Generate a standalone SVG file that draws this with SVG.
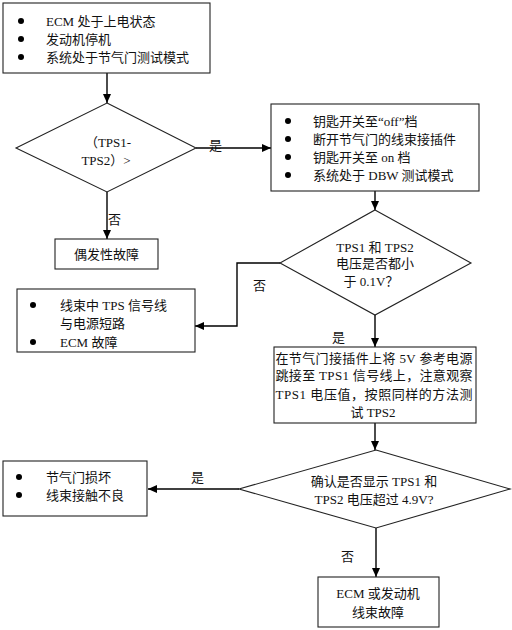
<svg xmlns="http://www.w3.org/2000/svg" width="512" height="630" viewBox="0 0 512 630">
<style>
.box{fill:#fff;stroke:#222;stroke-width:1.1}
.t{font-family:"Liberation Serif","Noto Sans CJK SC",serif;font-size:13px;fill:#111}
.m{text-anchor:middle}
.c{stroke:#000;stroke-width:1.4;fill:none;marker-end:url(#ah)}
.b{fill:#000}
</style>
<defs>
<marker id="ah" markerUnits="userSpaceOnUse" markerWidth="10" markerHeight="10" refX="9" refY="5" orient="auto">
<path d="M0,1 L9,5 L0,9 Z" fill="#000"/>
</marker>
</defs>
<rect width="512" height="630" fill="#fff"/>
<g id="connectors">
<path class="c" d="M107,73 V103"/>
<path class="c" d="M196,148 H271"/>
<path class="c" d="M107,192 V239"/>
<path class="c" d="M375,191 V210"/>
<path class="c" d="M280,263 H237 V326 H195"/>
<path class="c" d="M375,315 V347"/>
<path class="c" d="M375,423 V450"/>
<path class="c" d="M239,489 H148"/>
<path class="c" d="M376,528 V577"/>
<text class="t" x="209" y="150">是</text>
<text class="t" x="108" y="224">否</text>
<text class="t" x="253" y="290">否</text>
<text class="t" x="332" y="342">是</text>
<text class="t" x="191" y="482">是</text>
<text class="t" x="341" y="561">否</text>
</g>
<g id="start">
<rect class="box" x="3" y="3" width="207" height="70"/>
<circle class="b" cx="21" cy="21" r="3"/>
<circle class="b" cx="21" cy="39" r="3"/>
<circle class="b" cx="21" cy="57" r="3"/>
<text class="t" x="46" y="25.5">ECM 处于上电状态</text>
<text class="t" x="46" y="43.5">发动机停机</text>
<text class="t" x="46" y="61.5">系统处于节气门测试模式</text>
</g>
<g id="d1">
<polygon class="box" points="107,103 196,148 107,192 16,148"/>
<text class="t m" x="108" y="146.5">（TPS1-</text>
<text class="t m" x="106" y="164.5">TPS2）&gt;</text>
</g>
<g id="intermittent">
<rect class="box" x="55" y="239" width="103" height="30"/>
<text class="t m" x="106.5" y="258.5">偶发性故障</text>
</g>
<g id="steps">
<rect class="box" x="271" y="104" width="208" height="87"/>
<circle class="b" cx="288" cy="121" r="3"/>
<circle class="b" cx="288" cy="139" r="3"/>
<circle class="b" cx="288" cy="157" r="3"/>
<circle class="b" cx="288" cy="175" r="3"/>
<text class="t" x="313" y="125.5">钥匙开关至“off”档</text>
<text class="t" x="313" y="143.5">断开节气门的线束接插件</text>
<text class="t" x="313" y="161.5">钥匙开关至 on 档</text>
<text class="t" x="313" y="179.5">系统处于 DBW 测试模式</text>
</g>
<g id="d2">
<polygon class="box" points="375,210 471,263 375,315 280,263"/>
<text class="t m" x="375" y="251.5">TPS1 和 TPS2</text>
<text class="t m" x="375" y="268">电压是否都小</text>
<text class="t m" x="371" y="285.5">于 0.1V？</text>
</g>
<g id="short">
<rect class="box" x="17" y="289" width="178" height="63"/>
<circle class="b" cx="33" cy="305" r="3"/>
<circle class="b" cx="33" cy="342" r="3"/>
<text class="t" x="60" y="309.5">线束中 TPS 信号线</text>
<text class="t" x="60" y="327.5">与电源短路</text>
<text class="t" x="60" y="346.5">ECM 故障</text>
</g>
<g id="jumper">
<rect class="box" x="274" y="347" width="202" height="76"/>
<text class="t" x="275.5" y="362.5" textLength="197" lengthAdjust="spacing">在节气门接插件上将 5V 参考电源</text>
<text class="t" x="275.5" y="380" textLength="197" lengthAdjust="spacing">跳接至 TPS1 信号线上，注意观察</text>
<text class="t" x="275.5" y="398.5" textLength="197" lengthAdjust="spacing">TPS1 电压值，按照同样的方法测</text>
<text class="t m" x="373" y="416.5">试 TPS2</text>
</g>
<g id="d3">
<polygon class="box" points="376,450 510,489 376,528 239,489"/>
<text class="t m" x="374" y="485.5">确认是否显示 TPS1 和</text>
<text class="t m" x="374" y="503.5">TPS2 电压超过 4.9V?</text>
</g>
<g id="throttle">
<rect class="box" x="3" y="461" width="144" height="55"/>
<circle class="b" cx="19" cy="477" r="3"/>
<circle class="b" cx="19" cy="495" r="3"/>
<text class="t" x="46" y="481.5">节气门损坏</text>
<text class="t" x="46" y="499.5">线束接触不良</text>
</g>
<g id="ecm">
<rect class="box" x="318" y="577" width="121" height="50"/>
<text class="t m" x="378" y="597.5">ECM 或发动机</text>
<text class="t m" x="378" y="616.5">线束故障</text>
</g>
</svg>
